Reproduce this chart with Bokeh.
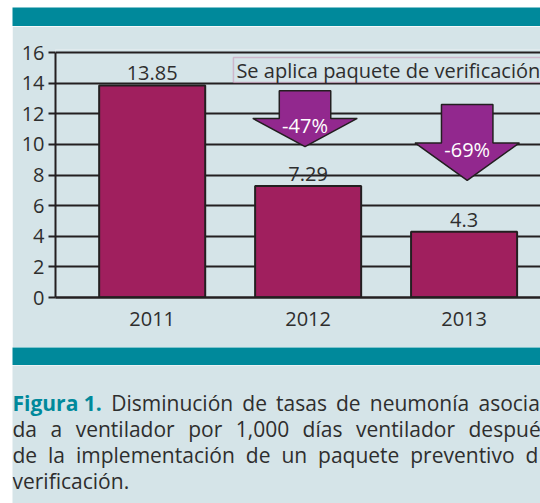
from bokeh.plotting import figure
from bokeh.layouts import column, row
from bokeh.models import (ColumnDataSource, FixedTicker, BoxAnnotation, Label,
                          LabelSet, Range1d, Spacer)
from bokeh.core.properties import value
from bokeh.embed import file_html
from bokeh.resources import INLINE

# ---------------- data ----------------
years = ["2011", "2012", "2013"]
rates = [13.85, 7.29, 4.3]
rate_labels = ["13.85", "7.29", "4.3"]
y_ticks = [0, 2, 4, 6, 8, 10, 12, 14, 16]
changes = ["-47%", "-69%"]
note = "Se aplica paquete de verificación"
caption_bold = "Figura 1."
caption_lines = [
    ["Disminución", "de", "tasas", "de", "neumonía", "asocia"],
    ["da", "a", "ventilador", "por", "1,000", "días", "ventilador", "despué"],
    ["de", "la", "implementación", "de", "un", "paquete", "preventivo", "d"],
    ["verificación."],
]

# ---------------- style ----------------
BG = "#D5E4E8"
TEAL = "#00899B"
BAR = "#A01F5E"
ARROW = "#92288E"
DARK = "#231F20"
PINK = "#C0508A"
TXT = "#2E2E2E"
FONT = "Open Sans"
FS = "20px"
CAP_PX = 21

CW = 528  # content width (page has a white strip of 12px on the left)


def band(h, color):
    f = figure(width=CW, height=h, output_backend="svg", toolbar_location=None,
               x_range=Range1d(0, 1), y_range=Range1d(0, 1), frame_align=False,
               min_border=0, outline_line_color=None,
               background_fill_color=color, border_fill_color=color)
    f.axis.visible = False
    f.grid.visible = False
    return f


top_band = band(19, TEAL)
bottom_band = band(18, TEAL)

# ---------------- main chart ----------------
p = figure(width=CW, height=321, output_backend="svg", toolbar_location=None,
           x_range=Range1d(-0.62, 2.49), y_range=Range1d(0, 16.2), frame_align=False,
           min_border_left=43, min_border_top=23, min_border_bottom=50,
           min_border_right=0, background_fill_color=BG, border_fill_color=BG,
           outline_line_color=None)

p.yaxis.ticker = FixedTicker(ticks=y_ticks)
p.yaxis.bounds = (0, 16)
p.yaxis.axis_line_color = DARK
p.yaxis.axis_line_width = 2
p.yaxis.major_tick_line_color = DARK
p.yaxis.major_tick_line_width = 2
p.yaxis.major_tick_out = 7
p.yaxis.major_tick_in = 0
p.yaxis.minor_tick_line_color = None
p.yaxis.major_label_text_font = FONT
p.yaxis.major_label_text_font_size = FS
p.yaxis.major_label_text_color = TXT
p.yaxis.major_label_standoff = 4

p.xaxis.ticker = FixedTicker(ticks=list(range(len(years))))
p.xaxis.major_label_overrides = {i: y for i, y in enumerate(years)}
p.xaxis.axis_line_color = DARK
p.xaxis.axis_line_width = 2.5
p.xaxis.major_tick_line_color = None
p.xaxis.minor_tick_line_color = None
p.xaxis.major_tick_out = 0
p.xaxis.major_tick_in = 0
p.xaxis.major_label_text_font = FONT
p.xaxis.major_label_text_font_size = FS
p.xaxis.major_label_text_color = TXT
p.xaxis.major_label_standoff = 14

p.xgrid.grid_line_color = None
p.ygrid.ticker = FixedTicker(ticks=y_ticks)
p.ygrid.grid_line_color = DARK
p.ygrid.grid_line_width = 2

xs = list(range(len(years)))
src = ColumnDataSource(dict(x=xs, top=rates, label=rate_labels))
p.vbar(x="x", top="top", width=0.68, bottom=0, source=src,
       fill_color=BAR, line_color=DARK, line_width=2)
p.add_layout(LabelSet(x="x", y="top", text="label", source=src, y_offset=5,
                      text_align="center", text_baseline="bottom",
                      text_font=value(FONT), text_font_size=value(FS), text_color=TXT))

# note box
p.add_layout(BoxAnnotation(left=0.521, right=3.2, top=15.68, bottom=14.04,
                           fill_color=BG, fill_alpha=1, line_color=PINK, line_width=1.5))
p.add_layout(Label(x=0.54, y=14.86, text=note, text_baseline="middle",
                   text_font=FONT, text_font_size=FS, text_color=TXT))

# arrows (center in category units, top / neck / tip in rate units)
arrow_x = [0.98, 2.02]
arrow_top = [13.5, 12.6]
arrow_neck = [11.7, 10.1]
arrow_tip = [9.85, 7.65]
SH, HH = 0.165, 0.335
axs, ays = [], []
for cx, t, n, tip in zip(arrow_x, arrow_top, arrow_neck, arrow_tip):
    axs.append([cx - SH, cx + SH, cx + SH, cx + HH, cx, cx - HH, cx - SH])
    ays.append([t, t, n, n, tip, n, n])
p.patches(axs, ays, fill_color=ARROW, line_color=DARK, line_width=1.5)
asrc = ColumnDataSource(dict(x=arrow_x, y=[n - 0.45 for n in arrow_neck], t=changes))
p.add_layout(LabelSet(x="x", y="y", text="t", source=asrc, text_align="center",
                      text_baseline="middle", text_font=value(FONT),
                      text_font_size=value(FS), text_color="white"))

# ---------------- caption (justified lines) ----------------
# approximate Open Sans advance widths (units of 1/2048 em)
ADV = {" ": 532, ",": 512, ".": 545, "0": 1171, "1": 1171, "D": 1479,
       "a": 1139, "c": 975, "d": 1255, "e": 1149, "f": 694, "g": 1122, "h": 1257,
       "i": 518, "l": 518, "m": 1905, "n": 1257, "o": 1237, "p": 1255, "q": 1255,
       "r": 836, "s": 977, "t": 723, "u": 1257, "v": 1026}
ACC = {"á": "a", "é": "e", "í": "i", "ó": "o", "ú": "u"}


def tw(word, px):
    return sum(ADV.get(ACC.get(ch, ch), 1100) for ch in word) / 2048 * px


BOLD_W = 4.27 * CAP_PX  # width of the bold "Figura 1."
CH = 138
cap = figure(width=CW, height=CH, output_backend="svg", toolbar_location=None,
             x_range=Range1d(0, CW), y_range=Range1d(CH, 0), min_border=0,
             frame_align=False, outline_line_color=None,
             background_fill_color=BG, border_fill_color=BG)
cap.axis.visible = False
cap.grid.visible = False

base = [37, 63, 89, 115]
last_start = [466, 456, 513, None]   # where the last visible word of a justified line begins
cx_, cy_, ct_ = [], [], []
for li, (line, b, L) in enumerate(zip(caption_lines, base, last_start)):
    widths = [tw(w, CAP_PX) for w in line]
    lead = BOLD_W if li == 0 else 0.0
    words_before = widths[:-1]
    ngaps = len(line) - 1 + (1 if li == 0 else 0)
    if L is None:
        gap = tw(" ", CAP_PX)
    else:
        gap = (L - lead - sum(words_before)) / ngaps
    x = lead + (gap if li == 0 else 0.0)
    for w, wd in zip(line, widths):
        cx_.append(x)
        cy_.append(b)
        ct_.append(w)
        x += wd + gap
cap.text(x=[0], y=[base[0]], text=[caption_bold], text_font=value(FONT),
         text_font_style="bold", text_font_size=value(f"{CAP_PX}px"), text_color=TEAL,
         text_baseline="alphabetic")
cap.text(x=cx_, y=cy_, text=ct_, text_font=value(FONT),
         text_font_size=value(f"{CAP_PX}px"), text_color=TXT, text_baseline="alphabetic")

content = column(Spacer(width=CW, height=7), top_band, p, bottom_band, cap, spacing=0)
layout = row(Spacer(width=12, height=503), content, spacing=0)

open("out.html", "w").write(file_html(layout, INLINE))
